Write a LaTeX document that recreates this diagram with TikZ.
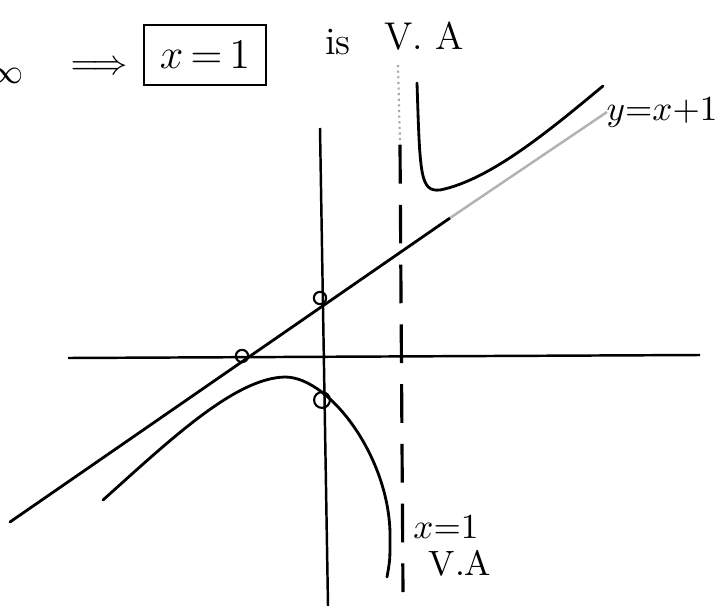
\documentclass[tikz,border=0pt]{standalone}
\usetikzlibrary{positioning}

\begin{document}
\begin{tikzpicture}[x=0.01cm, y=-0.01cm,
    axis/.style={line width=0.7pt, black},
    curve/.style={line width=0.8pt, black, line cap=round},
    asym/.style={line width=0.9pt, black, dash pattern=on 11pt off 6pt},
    hole/.style={circle, draw=black, line width=0.6pt, minimum size=3.5pt, inner sep=0pt},
    hand/.style={font=\fontsize{10}{12}\selectfont, inner sep=1pt}
]
    \useasboundingbox (0,0) rectangle (718,606);

    % --- Axes ---
    \coordinate (xl) at (68,358);
    \coordinate (xr) at (700,355);
    \coordinate (yt) at (320,128);
    \coordinate (yb) at (328,606);
    \draw[axis] (xl) -- (xr);
    \draw[axis] (yt) -- (yb);

    % --- Vertical asymptote x = 1 ---
    \coordinate (vt) at (398,65);
    \coordinate (vm) at (400,145);
    \coordinate (vb) at (403,592);
    \draw[gray!70, line width=0.6pt, densely dotted] (vt) -- (vm);
    \draw[asym] (vm) -- (vb);

    % --- Oblique asymptote y = x + 1 ---
    \coordinate (ol) at (10,522);
    \coordinate (om) at (450,218);
    \coordinate (or) at (607,112);
    \draw[curve] (ol) -- (om);
    \draw[gray!60, line width=0.7pt] (om) -- (or);

    % --- Branches of the curve ---
    \draw[curve] (417,83) .. controls (420,175) and (420,192) .. (440,190)
                 .. controls (490,180) and (550,130) .. (603,86);
    \draw[curve] (103,500) .. controls (170,440) and (235,378) .. (285,377)
                 .. controls (330,377) and (392,460) .. (390,540)
                 .. controls (390,560) .. (387,577);

    % --- Intercepts ---
    \node[hole] (px) at (242,356) {};
    \node[hole] (py) at (320,298) {};
    \node[hole, minimum size=4.5pt] (pc) at (322,400) {};

    % --- Labels ---
    \node[hand] (inf) at (6,76) {$\infty$};
    \node[hand] (imp) at (99,68) {$\Longrightarrow$};
    \node[hand, font=\fontsize{12}{14}\selectfont, draw, line width=0.8pt,
          minimum width=12.2mm, minimum height=6mm] (box) at (205,55) {$x\,{=}\,1$};
    \node[hand, font=\fontsize{11}{13}\selectfont] (is) at (338,42) {is};
    \node[hand, font=\fontsize{11}{13}\selectfont] (va) at (424,36) {V. A};
    \node[hand] (oblab) at (662,113) {$y{=}x{+}1$};
    \node[hand] (vlab) at (446,527) {$x{=}1$};
    \node[hand] (valab) at (460,563) {V.A};

\end{tikzpicture}
\end{document}
